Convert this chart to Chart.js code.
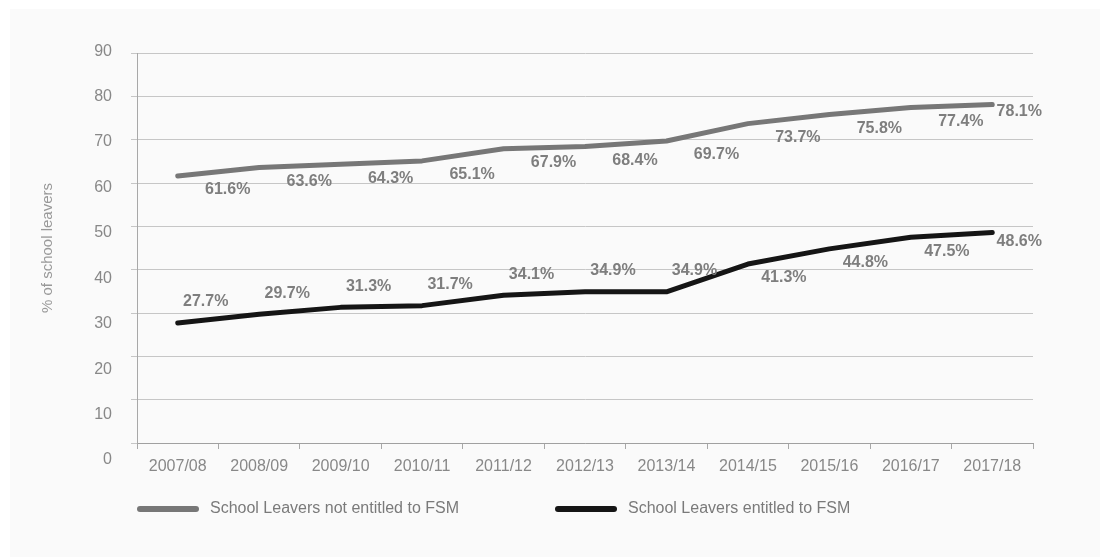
<!DOCTYPE html>
<html>
<head>
<meta charset="utf-8">
<script src="https://cdn.jsdelivr.net/npm/chart.js@4.4.1/dist/chart.umd.min.js"></script>
<style>
  html, body { margin: 0; padding: 0; background: #fff; }
  #wrap { width: 1100px; height: 557px; }
</style>
</head>
<body>
<div id="wrap"><canvas id="leaversChart" width="1100" height="557"></canvas></div>
<script>
// data
var years = ['2007/08', '2008/09', '2009/10', '2010/11', '2011/12', '2012/13', '2013/14', '2014/15', '2015/16', '2016/17', '2017/18'];
var notFsm = [61.6, 63.6, 64.3, 65.1, 67.9, 68.4, 69.7, 73.7, 75.8, 77.4, 78.1];
var fsm = [27.7, 29.7, 31.3, 31.7, 34.1, 34.9, 34.9, 41.3, 44.8, 47.5, 48.6];
var yTicks = [0, 10, 20, 30, 40, 50, 60, 70, 80, 90];

var FONT = '"Liberation Sans", Arial, Helvetica, sans-serif';
var GREY_LINE = '#777777';
var BLACK_LINE = '#151515';

// panel background
var bgPlugin = {
    id: 'bg',
    beforeDraw: function (chart) {
        var c = chart.ctx;
        c.save();
        c.fillStyle = '#ffffff';
        c.fillRect(0, 0, chart.width, chart.height);
        c.fillStyle = '#fafafa';
        c.fillRect(10, 9, chart.width - 10, chart.height - 9);
        c.restore();
    }
};

// value labels next to each point
var valueLabels = {
    id: 'valueLabels',
    afterDatasetsDraw: function (chart) {
        var c = chart.ctx;
        c.save();
        c.font = 'bold 16px ' + FONT;
        c.fillStyle = '#7e7e7e';
        c.textAlign = 'center';
        c.textBaseline = 'middle';
        chart.data.datasets.forEach(function (ds, di) {
            var meta = chart.getDatasetMeta(di);
            meta.data.forEach(function (pt, i) {
                var off = ds.labelPos(i, meta.data.length);
                c.fillText(ds.data[i].toFixed(1) + '%', pt.x + off[0], pt.y + off[1]);
            });
        });
        c.restore();
    }
};

// legend under the axis, left aligned like the original
var lineLegend = {
    id: 'lineLegend',
    afterDraw: function (chart) {
        var c = chart.ctx;
        var left = chart.chartArea.left;
        var y = 509;
        var starts = [left + 3, left + 421];
        c.save();
        c.font = '16px ' + FONT;
        c.textBaseline = 'middle';
        c.textAlign = 'left';
        chart.data.datasets.forEach(function (ds, i) {
            var x = starts[i];
            c.strokeStyle = ds.borderColor;
            c.lineWidth = 6;
            c.lineCap = 'round';
            c.beginPath();
            c.moveTo(x, y);
            c.lineTo(x + 56, y);
            c.stroke();
            c.fillStyle = '#7a7a7a';
            c.fillText(ds.label, x + 70, y);
        });
        c.restore();
    }
};

var ctx = document.getElementById('leaversChart').getContext('2d');
var chart = new Chart(ctx, {
    type: 'line',
    data: {
        labels: years,
        datasets: [{
            label: 'School Leavers not entitled to FSM',
            data: notFsm,
            borderColor: GREY_LINE,
            borderWidth: 5,
            borderCapStyle: 'round',
            borderJoinStyle: 'round',
            pointRadius: 0,
            tension: 0,
            labelPos: function (i, n) { return i === n - 1 ? [27, 7] : [50, 14]; }
        }, {
            label: 'School Leavers entitled to FSM',
            data: fsm,
            borderColor: BLACK_LINE,
            borderWidth: 5,
            borderCapStyle: 'round',
            borderJoinStyle: 'round',
            pointRadius: 0,
            tension: 0,
            labelPos: function (i, n) {
                if (i === n - 1) return [27, 9];
                return i < 7 ? [28, -21] : [36, 14];
            }
        }]
    },
    options: {
        responsive: false,
        devicePixelRatio: 1,
        animation: false,
        layout: { padding: { left: 8, right: 67, top: 53, bottom: 0 } },
        plugins: {
            legend: { display: false },
            tooltip: { enabled: false }
        },
        scales: {
            x: {
                type: 'category',
                offset: true,
                grid: { offset: true, drawOnChartArea: false, drawTicks: true, tickLength: 6, color: '#a8a8a8' },
                border: { color: '#a0a0a0', width: 1 },
                ticks: { color: '#888', font: { family: FONT, size: 16 }, padding: 8, maxRotation: 0, autoSkip: false },
                afterFit: function (s) { s.height = 114; }
            },
            y: {
                position: 'left',
                weight: 0,
                min: 0,
                max: 90,
                grid: { color: '#c6c6c6', drawTicks: true, tickLength: 6 },
                border: { color: '#a8a8a8', width: 1 },
                ticks: { display: false, stepSize: 10 },
                afterBuildTicks: function (s) { s.ticks = yTicks.map(function (v) { return { value: v }; }); },
                afterFit: function (s) { s.width = 6; }
            },
            yl: {
                position: 'left',
                weight: 1,
                min: 3.75,
                max: 89.6,
                grid: { display: false, drawTicks: false },
                border: { display: false },
                ticks: { color: '#888', font: { family: FONT, size: 16 }, padding: 19 },
                afterBuildTicks: function (s) { s.ticks = yTicks.map(function (v) { return { value: v }; }); },
                title: {
                    display: true,
                    text: '% of school leavers',
                    color: '#999',
                    font: { family: FONT, size: 15 },
                    padding: { top: 31, bottom: 0 }
                },
                afterFit: function (s) { s.width = 123; }
            }
        }
    },
    plugins: [bgPlugin, valueLabels, lineLegend]
});
</script>
</body>
</html>
